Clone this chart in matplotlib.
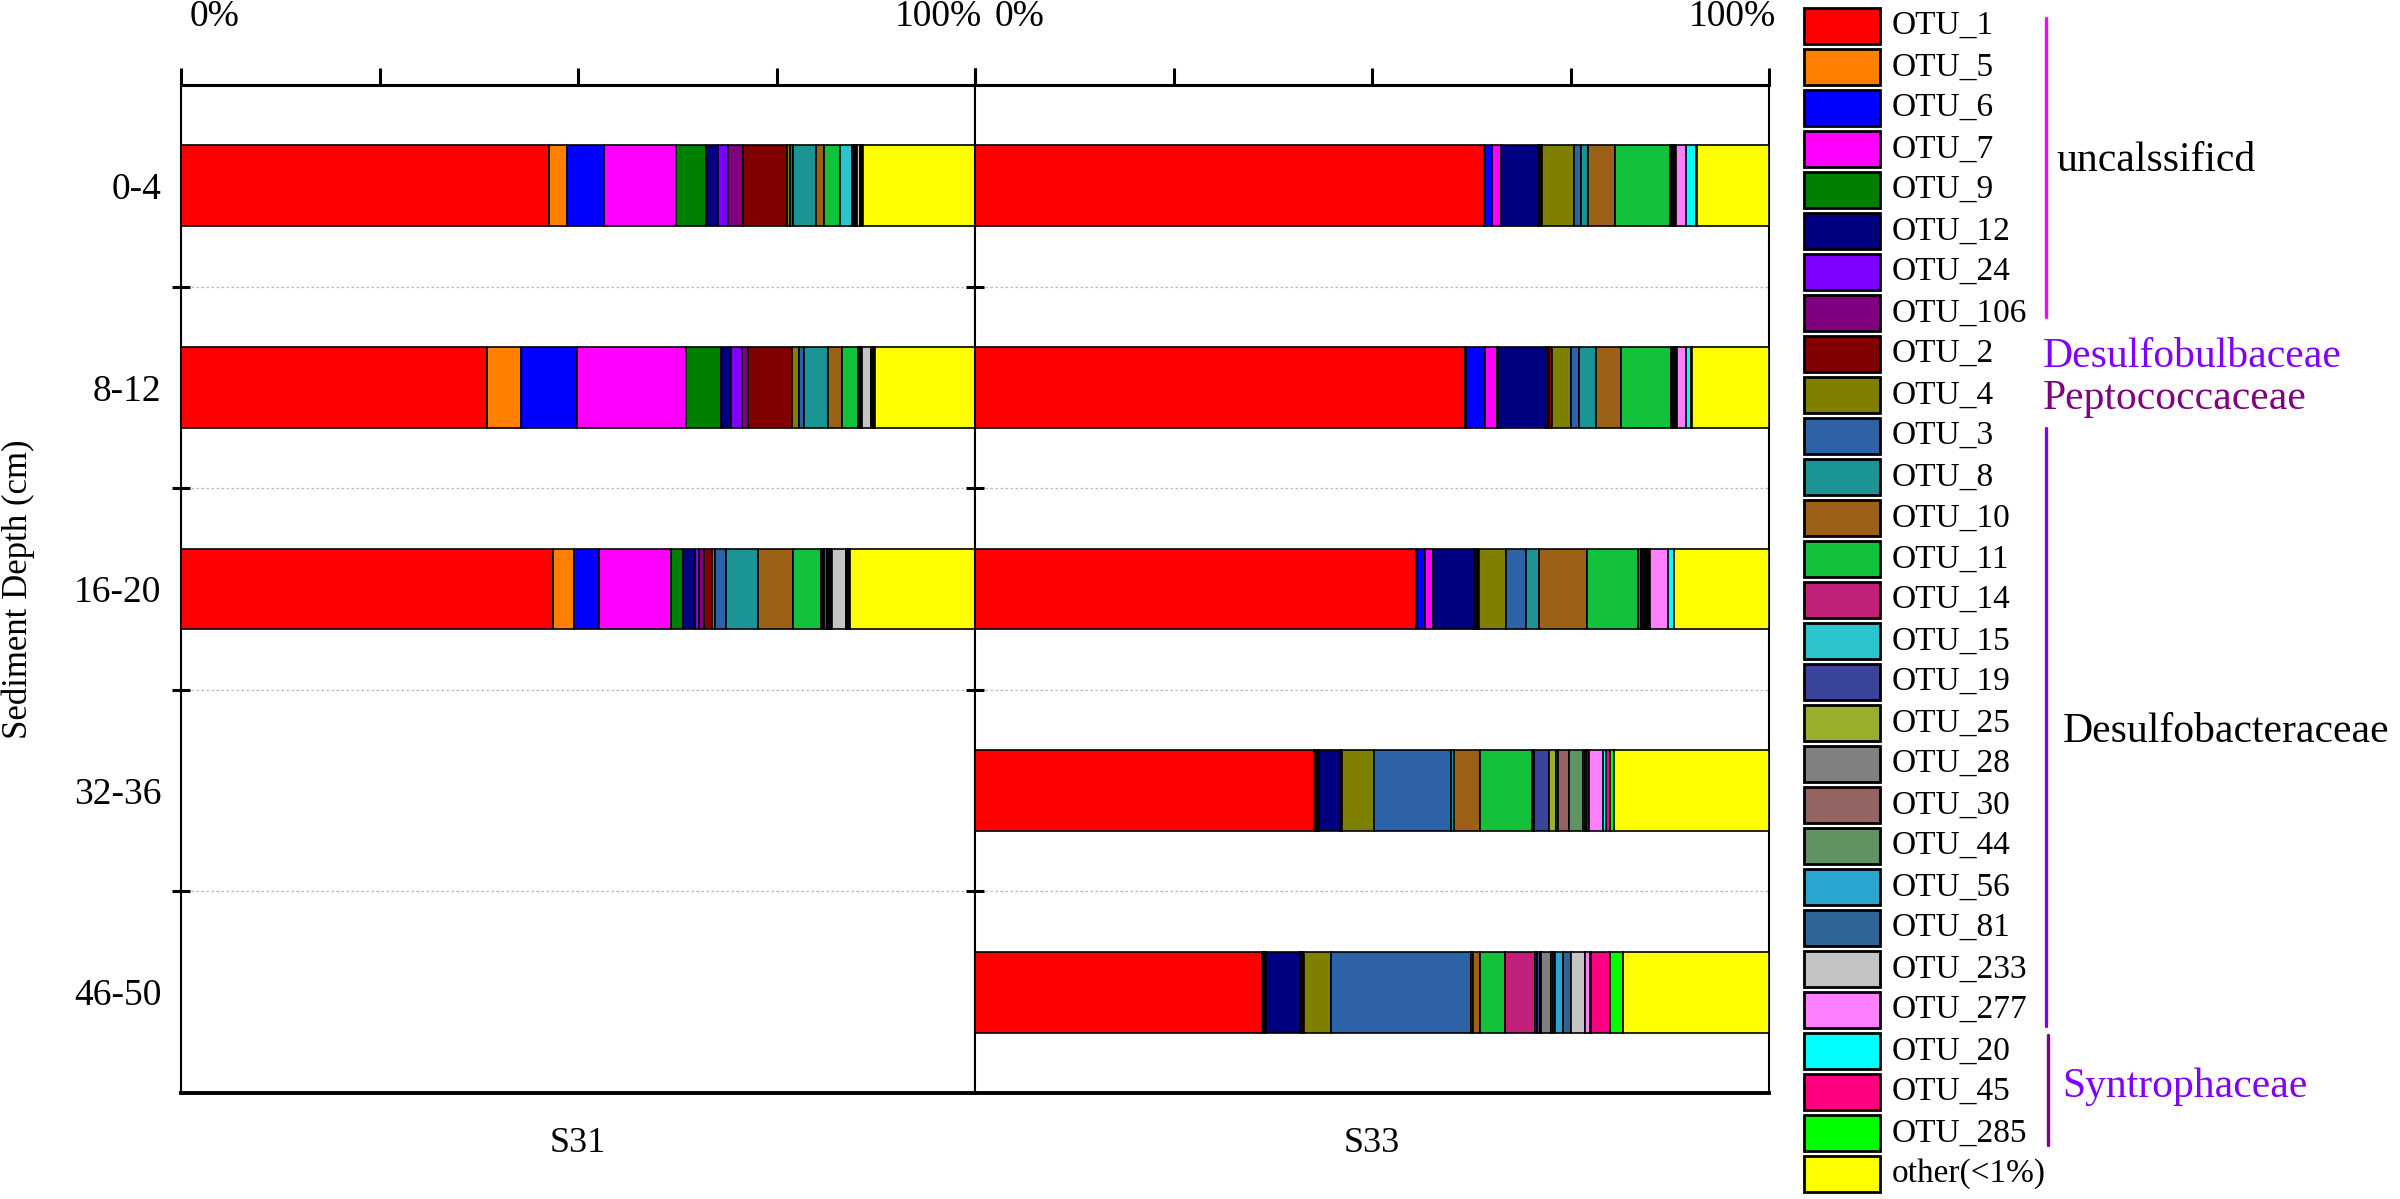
import numpy as np
import matplotlib
matplotlib.use('Agg')
import matplotlib.pyplot as plt
from matplotlib.patches import Rectangle
from matplotlib.lines import Line2D
from matplotlib.transforms import ScaledTranslation

plt.rcParams['font.family'] = 'Liberation Serif'

# legend order == stacking order
otus = ['OTU_1', 'OTU_5', 'OTU_6', 'OTU_7', 'OTU_9', 'OTU_12', 'OTU_24', 'OTU_106',
        'OTU_2', 'OTU_4', 'OTU_3', 'OTU_8', 'OTU_10', 'OTU_11', 'OTU_14', 'OTU_15',
        'OTU_19', 'OTU_25', 'OTU_28', 'OTU_30', 'OTU_44', 'OTU_56', 'OTU_81',
        'OTU_233', 'OTU_277', 'OTU_20', 'OTU_45', 'OTU_285', 'other(<1%)']
colors = ['#FF0000', '#FF8000', '#0000FF', '#FF00FF', '#008000', '#000080', '#8000FF', '#800080',
          '#800000', '#808000', '#2E62A6', '#1A9494', '#9C6117', '#11C23A', '#C01F7A', '#2CC4CD',
          '#3A449B', '#97AF2D', '#808080', '#946463', '#5F9462', '#2AA4D1', '#2F6497',
          '#C4C4C4', '#FF80FF', '#00FFFF', '#FF0080', '#00FF00', '#FFFF00']

depths = ['0-4', '8-12', '16-20', '32-36', '46-50']

# relative abundance (%)
s31_0_4 = [46.3, 2.3, 4.7, 9.0, 3.8, 1.5, 1.3, 1.8, 5.6, 0.3, 0.5, 2.8, 1.0, 2.0, 0.1, 1.45,
           0.1, 0.1, 0.1, 0.1, 0.1, 0.1, 0.1, 0.3, 0.1, 0.1, 0.1, 0.1, 14.1]
s31_8_12 = [38.7, 4.3, 7.1, 13.8, 4.4, 1.3, 1.4, 0.8, 5.5, 0.9, 0.7, 3.0, 1.8, 2.0, 0.05, 0.1,
            0.05, 0.05, 0.05, 0.05, 0.05, 0.05, 0.05, 1.1, 0.2, 0.1, 0.1, 0.1, 12.7]
s31_16_20 = [46.9, 2.7, 3.1, 9.1, 1.6, 1.45, 0.5, 0.7, 0.9, 0.5, 1.3, 4.1, 4.35, 3.6, 0.2, 0.2,
             0.3, 0.1, 0.1, 0.1, 0.1, 0.1, 0.1, 1.8, 0.2, 0.1, 0.1, 0.1, 15.8]

s33_0_4 = [63.8, 0.1, 0.9, 1.1, 0.05, 4.6, 0.1, 0.1, 0.3, 4.0, 0.9, 0.9, 3.4, 6.9, 0.1, 0.1,
           0.1, 0.05, 0.05, 0.05, 0.05, 0.05, 0.05, 0.05, 1.3, 1.3, 0.05, 0.05, 9.0]
s33_8_12 = [61.8, 0.1, 2.4, 1.5, 0.1, 6.1, 0.2, 0.2, 0.4, 2.3, 1.0, 2.2, 3.1, 6.3, 0.1, 0.1,
            0.1, 0.05, 0.05, 0.05, 0.05, 0.1, 0.1, 0.1, 1.1, 0.7, 0.05, 0.05, 9.7]
s33_16_20 = [55.5, 0.2, 1.0, 0.9, 0.1, 5.1, 0.2, 0.2, 0.3, 3.4, 2.5, 1.6, 6.1, 6.4, 0.3, 0.2,
             0.2, 0.15, 0.1, 0.1, 0.1, 0.1, 0.1, 0.1, 2.3, 0.7, 0.05, 0.05, 11.9]
s33_32_36 = [42.5, 0.2, 0.2, 0.1, 0.1, 2.6, 0.1, 0.1, 0.1, 4.0, 9.7, 0.3, 3.3, 6.5, 0.15, 0.15,
             1.8, 0.9, 0.3, 1.3, 1.8, 0.25, 0.25, 0.2, 1.8, 0.4, 0.5, 0.5, 19.4]
s33_46_50 = [36.3, 0.15, 0.15, 0.1, 0.1, 4.3, 0.1, 0.1, 0.3, 3.4, 17.7, 0.3, 0.9, 3.1, 3.8, 0.3,
             0.3, 0.2, 1.2, 0.3, 0.3, 1.0, 0.9, 1.8, 0.7, 0.1, 2.4, 1.6, 18.5]

samples = {
    'S31': [s31_0_4, s31_8_12, s31_16_20],
    'S33': [s33_0_4, s33_8_12, s33_16_20, s33_32_36, s33_46_50],
}

W, H = 2400, 1199
fig = plt.figure(figsize=(W / 100, H / 100), dpi=100)


def fx(x):
    return x / W


def fy(y):
    return 1 - y / H


ax_top, ax_bot = 85, 1093
lefts = [181, 975]
zero_shift = [9, 20]   # px offset of the "0%" label from its tick
pw = 794
for k, (name, rows) in enumerate(samples.items()):
    ax = fig.add_axes([fx(lefts[k]), fy(ax_bot), pw / W, (ax_bot - ax_top) / H])
    data = np.array(rows, dtype=float)
    data = data / data.sum(axis=1, keepdims=True) * 100
    ypos = np.arange(len(rows)) + 0.5
    left = np.zeros(len(rows))
    for j in range(len(otus)):
        ax.barh(ypos, data[:, j], left=left, height=0.4, color=colors[j],
                edgecolor='black', linewidth=1.2, zorder=3)
        left += data[:, j]

    ax.set_xlim(0, 100)
    ax.set_ylim(len(depths), 0)

    ax.xaxis.tick_top()
    ax.set_xticks([0, 25, 50, 75, 100])
    ax.set_xticklabels(['0%', '', '', '', '100%'])
    ax.tick_params(axis='x', direction='out', length=12, width=2.2, labelsize=27, pad=25)
    labs = ax.get_xticklabels()
    labs[0].set_horizontalalignment('left')
    labs[0].set_transform(labs[0].get_transform() +
                          ScaledTranslation(zero_shift[k] / 100, 0, fig.dpi_scale_trans))
    labs[-1].set_horizontalalignment('right')
    labs[-1].set_transform(labs[-1].get_transform() +
                           ScaledTranslation(0.07, 0, fig.dpi_scale_trans))

    ax.set_yticks([1, 2, 3, 4])
    ax.set_yticks(np.arange(len(depths)) + 0.5, minor=True)
    ax.tick_params(axis='y', which='major', direction='inout', length=13, width=2.2,
                   labelleft=False)
    ax.tick_params(axis='y', which='minor', length=0, labelsize=27, pad=14)
    if k == 0:
        ax.set_yticklabels(depths, minor=True)
    else:
        ax.tick_params(axis='y', which='minor', labelleft=False)
    ax.yaxis.grid(True, which='major', linestyle=(0, (2, 2)), color='#b8b8b8', lw=0.9)

    for side in ['left', 'right']:
        ax.spines[side].set_linewidth(1.5)
    ax.spines['top'].set_linewidth(2.2)
    ax.spines['bottom'].set_linewidth(2.8)

    ax.text(0.5, (ax_bot - 1143) / (ax_bot - ax_top), name, transform=ax.transAxes,
            ha='center', va='center', fontsize=26)

fig.text(fx(18), fy(589), 'Sediment Depth (cm)', rotation=90, ha='center', va='center',
         fontsize=25)

# legend column, drawn by hand so the rows fill the full height like the original
box_x, box_w, box_h = 1804, 76, 36
row0, row_step = 26, 41.0
for i, (lab, c) in enumerate(zip(otus, colors)):
    yc = row0 + i * row_step
    fig.add_artist(Rectangle((fx(box_x), fy(yc + box_h / 2)), box_w / W, box_h / H,
                             transform=fig.transFigure, facecolor=c, edgecolor='black',
                             linewidth=2))
    fig.text(fx(box_x + box_w + 12), fy(yc), lab, ha='left', va='center', fontsize=24)

# family brackets
groups = [
    (2046, 18, 317, '#FF00FF'),
    (2046, 428, 1026, '#8000FF'),
    (2048, 1035, 1145, '#800080'),
]
for x, y0, y1, c in groups:
    fig.add_artist(Line2D([fx(x), fx(x)], [fy(y0), fy(y1)], transform=fig.transFigure,
                          color=c, lw=2.4, solid_capstyle='round'))

families = [
    (2056, 161, 'uncalssificd', 'black'),
    (2043, 357, 'Desulfobulbaceae', '#8000FF'),
    (2043, 399, 'Peptococcaceae', '#800080'),
    (2063, 732, 'Desulfobacteraceae', 'black'),
    (2062, 1087, 'Syntrophaceae', '#8000FF'),
]
for x, y, s, c in families:
    fig.text(fx(x), fy(y), s, ha='left', va='center', fontsize=30, color=c)

fig.savefig('out.png', dpi=100)
